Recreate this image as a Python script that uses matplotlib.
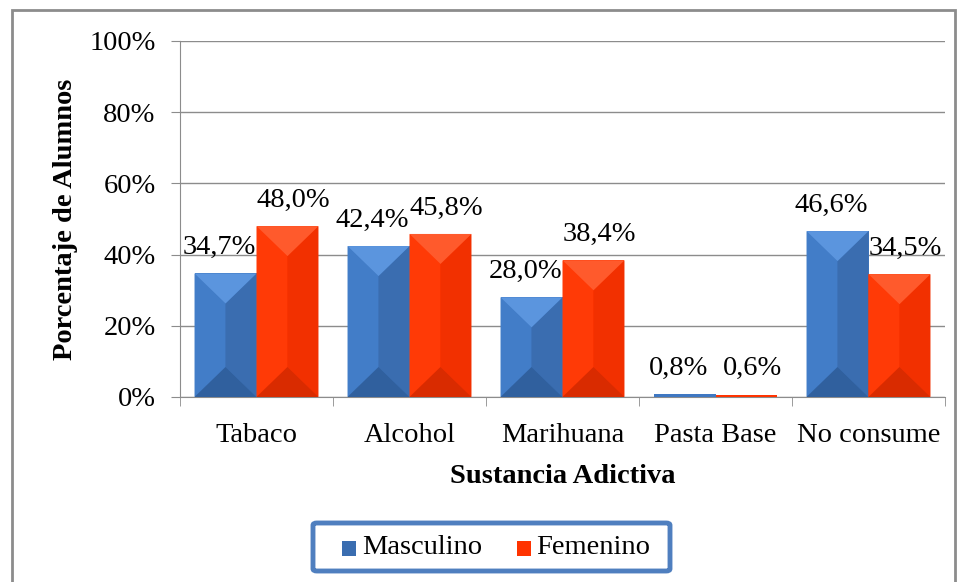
import matplotlib
matplotlib.use("Agg")
import matplotlib.pyplot as plt
from matplotlib.patches import Polygon, Rectangle, FancyBboxPatch
import numpy as np

plt.rcParams['font.family'] = ['Liberation Serif', 'DejaVu Serif']

# data
categorias = ['Tabaco', 'Alcohol', 'Marihuana', 'Pasta Base', 'No consume']
masculino = [34.7, 42.4, 28.0, 0.8, 46.6]
femenino = [48.0, 45.8, 38.4, 0.6, 34.5]
etiquetas_m = ['34,7%', '42,4%', '28,0%', '0,8%', '46,6%']
etiquetas_f = ['48,0%', '45,8%', '38,4%', '0,6%', '34,5%']

# bevel colours: base, top, left, right, bottom
azul = ['#3F78C2', '#5B95DE', '#427DC8', '#3A6DB0', '#30609E']
rojo = ['#FF3300', '#FF5A2C', '#FF3A06', '#F23000', '#D92B00']

fig = plt.figure(figsize=(9.66, 5.82), dpi=100)
ax = fig.add_axes([180/966, 1-397/582, 765/966, 356/582])

# outer border
fig.patches.append(Rectangle((12/966, -0.05), 943/966, 1.05-10/582, transform=fig.transFigure,
                             fill=False, edgecolor='#8C8C8C', linewidth=2))

x = np.arange(len(categorias))
w = 0.405
px_y = 100/356.0  # data units per pixel (y)


def barra(xc, h, cols):
    x0, x1 = xc - w/2, xc + w/2
    ax.add_patch(Rectangle((x0, 0), w, h, facecolor=cols[0], edgecolor='none', zorder=3))
    d = min(30*px_y, h/2)
    if h < 2:
        return
    cx = xc
    ax.add_patch(Polygon([(x0, 0), (cx, d), (cx, h-d), (x0, h)], closed=True, facecolor=cols[2],
                         edgecolor='none', zorder=4))
    ax.add_patch(Polygon([(x1, 0), (cx, d), (cx, h-d), (x1, h)], closed=True, facecolor=cols[3],
                         edgecolor='none', zorder=4))
    ax.add_patch(Polygon([(x0, h), (x1, h), (cx, h-d)], closed=True, facecolor=cols[1],
                         edgecolor='none', zorder=4))
    ax.add_patch(Polygon([(x0, 0), (x1, 0), (cx, d)], closed=True, facecolor=cols[4],
                         edgecolor='none', zorder=4))


for i in range(len(categorias)):
    barra(x[i] - w/2, masculino[i], azul)
    barra(x[i] + w/2, femenino[i], rojo)
    ax.text(x[i] - w/2 - 0.04, masculino[i] + 3.8, etiquetas_m[i], ha='center', va='bottom',
            fontsize=20.5, zorder=5)
    ax.text(x[i] + w/2 + 0.04, femenino[i] + 3.8, etiquetas_f[i], ha='center', va='bottom',
            fontsize=20.5, zorder=5)

ax.set_xlim(-0.5, len(categorias) - 0.5)
ax.set_ylim(0, 100)
ax.set_yticks(np.arange(0, 101, 20))
ax.set_yticklabels([f'{v}%' for v in range(0, 101, 20)], fontsize=20.5)
ax.set_xticks(x)
ax.set_xticklabels(categorias, fontsize=20.5)
ax.set_xticks(np.arange(-0.5, len(categorias), 1), minor=True)
ax.tick_params(axis='x', which='major', length=0, pad=19)
ax.tick_params(axis='x', which='minor', length=6.5, color='#8C8C8C', direction='out')
ax.tick_params(axis='y', length=6.5, color='#8C8C8C', pad=11)
ax.grid(axis='y', color='#8C8C8C', linewidth=1, zorder=0)
ax.set_axisbelow(True)
for s in ['top', 'right']:
    ax.spines[s].set_visible(False)
for s in ['left', 'bottom']:
    ax.spines[s].set_color('#8C8C8C')

ax.set_xlabel('Sustancia Adictiva', fontsize=20.5, fontweight='bold', labelpad=11)
ax.set_ylabel('Porcentaje de Alumnos', fontsize=20.5, fontweight='bold', labelpad=8)

# legend
leg_box = FancyBboxPatch((313/966, 1-571/582), 357/966, 48/582, transform=fig.transFigure,
                         boxstyle='round,pad=0,rounding_size=0.004', fill=True,
                         facecolor='white', edgecolor='#4F7FBF', linewidth=3.5)
fig.patches.append(leg_box)
fig.patches.append(Rectangle((342/966, 1-556/582), 14/966, 15/582, transform=fig.transFigure,
                             facecolor=azul[3], edgecolor='none'))
fig.patches.append(Rectangle((517/966, 1-556/582), 14/966, 15/582, transform=fig.transFigure,
                             facecolor=rojo[0], edgecolor='none'))
fig.text(362/966, 1-548/582, 'Masculino', fontsize=20.5, va='center', ha='left')
fig.text(536/966, 1-548/582, 'Femenino', fontsize=20.5, va='center', ha='left')

fig.savefig('out.png', dpi=100)
